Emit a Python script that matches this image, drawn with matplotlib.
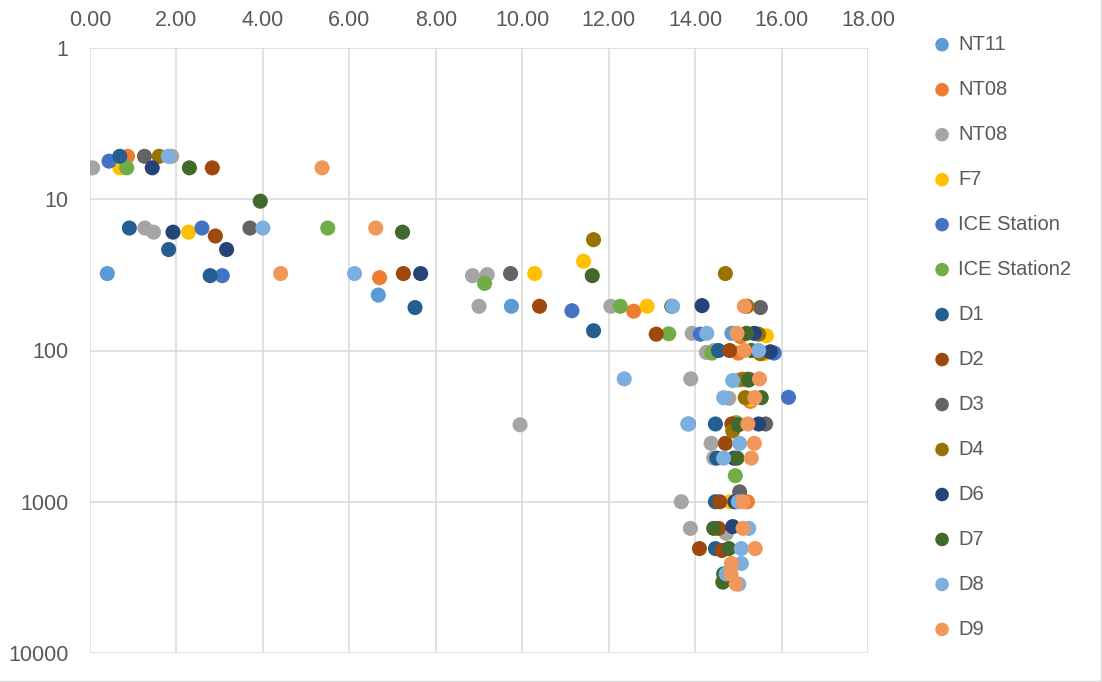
import matplotlib
matplotlib.use("Agg")
import matplotlib.pyplot as plt
from matplotlib.lines import Line2D
from matplotlib.ticker import FixedLocator, FuncFormatter, NullLocator

plt.rcParams['font.family'] = ['Liberation Sans', 'DejaVu Sans']

series_names = ["NT11", "NT08", "NT08", "F7", "ICE Station", "ICE Station2",
                "D1", "D2", "D3", "D4", "D6", "D7", "D8", "D9"]
series_colors = ["#5B9BD5", "#ED7D31", "#A5A5A5", "#FFC000", "#4472C4", "#70AD47",
                 "#255E91", "#9E480E", "#636363", "#997300", "#264478", "#43682B",
                 "#7CAFDD", "#F1975A"]

nt11_x = [0.40, 6.67, 9.75, 14.85, 13.85]
nt11_y = [31, 43, 51, 77, 306]

nt08_x = [0.87, 6.70, 12.58, 15.05, 15.00, 15.28, 15.21]
nt08_y = [5.2, 33, 55, 81, 104, 217, 1000]

nt08b_x = [0.06, 1.89, 1.27, 1.47, 8.85, 9.19, 9.00, 12.05, 13.93, 14.26, 14.44,
           13.90, 15.01, 14.78, 9.95, 14.37, 14.43, 13.68, 13.89, 14.72]
nt08b_y = [6.2, 5.2, 15.5, 16.5, 32, 31.5, 51, 51, 77, 103, 100,
           154, 157, 207, 310, 411, 514, 1000, 1500, 1620]

f7_x = [0.69, 2.28, 10.29, 11.42, 12.89, 15.65, 15.59, 15.30, 14.81]
f7_y = [6.2, 16.5, 31, 25.7, 51, 80, 105, 210, 1000]

ice_x = [0.44, 2.59, 3.06, 11.15, 14.12, 15.83, 16.16]
ice_y = [5.6, 15.5, 32, 54.6, 78, 104, 204]

ice2_x = [0.85, 5.50, 9.13, 12.27, 13.39, 14.39, 14.95, 14.93]
ice2_y = [6.2, 15.5, 36, 51, 77.5, 104, 300, 673]

d1_x = [0.69, 0.91, 1.82, 2.78, 7.52, 11.65, 14.54, 14.47, 14.50, 14.47, 14.47]
d1_y = [5.2, 15.5, 21.5, 32, 52, 74, 100, 306, 515, 1000, 2040]

d2_x = [2.83, 2.90, 7.25, 10.40, 13.10, 14.80, 15.20, 14.85, 14.70, 14.57, 14.54, 14.10, 14.62]
d2_y = [6.2, 17.5, 31, 51, 78, 100, 155, 306, 411, 1000, 1500, 2040, 2100]

d3_x = [1.26, 3.70, 9.73, 15.51, 15.25, 15.63, 15.03]
d3_y = [5.2, 15.5, 31, 52, 155, 306, 860]

d4_x = [1.60, 11.65, 14.70, 15.20, 15.47, 15.51, 15.10, 15.16, 14.87]
d4_y = [5.2, 18.5, 31, 51, 78, 105, 155, 205, 340]

d6_x = [1.44, 1.92, 3.16, 7.65, 14.16, 15.37, 15.74, 15.47, 14.90, 14.92, 14.87]
d6_y = [6.2, 16.5, 21.5, 31, 50.5, 77, 102, 306, 515, 1000, 1460]

d7_x = [2.30, 3.94, 7.23, 11.62, 13.46, 15.19, 15.30, 15.24, 15.53, 15.00, 14.97,
        14.43, 14.78, 14.66, 14.64]
d7_y = [6.2, 10.3, 16.5, 32, 51, 77, 100, 157, 205, 310, 515,
        1500, 2040, 3000, 3400]

d8_x = [1.81, 4.00, 6.12, 13.48, 14.27, 15.47, 12.36, 14.87, 14.66, 13.83, 15.03,
        14.66, 15.00, 15.24, 15.07, 15.07, 14.72, 15.01]
d8_y = [5.2, 15.5, 31, 51, 77, 100, 154, 158, 205, 306, 411,
        515, 1000, 1500, 2040, 2560, 3000, 3500]

d9_x = [5.37, 6.61, 4.41, 15.14, 14.97, 15.14, 15.49, 15.38, 15.22, 15.37, 15.30,
        15.11, 15.11, 15.39, 14.84, 14.83, 14.95]
d9_y = [6.2, 15.5, 31, 51, 77, 100, 154, 205, 306, 411, 515,
        1000, 1500, 2040, 2560, 3000, 3500]

series_x = [nt11_x, nt08_x, nt08b_x, f7_x, ice_x, ice2_x, d1_x, d2_x, d3_x, d4_x,
            d6_x, d7_x, d8_x, d9_x]
series_y = [nt11_y, nt08_y, nt08b_y, f7_y, ice_y, ice2_y, d1_y, d2_y, d3_y, d4_y,
            d6_y, d7_y, d8_y, d9_y]

x_ticks = [0, 2, 4, 6, 8, 10, 12, 14, 16, 18]
y_ticks = [1, 10, 100, 1000, 10000]

W, H = 1102, 682
fig = plt.figure(figsize=(W / 100, H / 100), dpi=100)
ax = fig.add_axes([90 / W, (H - 653) / H, 778 / W, 605 / H])

for name, col, xs, ys in zip(series_names, series_colors, series_x, series_y):
    ax.scatter(xs, ys, s=118, color=col, edgecolors='none', label=name, zorder=3)

ax.set_yscale('log')
ax.set_ylim(10000, 1)
ax.set_xlim(0, 18)
ax.yaxis.set_major_locator(FixedLocator(y_ticks))
ax.yaxis.set_minor_locator(NullLocator())
ax.yaxis.set_major_formatter(FuncFormatter(lambda v, p: f"{int(round(v))}"))
ax.xaxis.set_major_locator(FixedLocator(x_ticks))
ax.xaxis.set_major_formatter(FuncFormatter(lambda v, p: f"{v:.2f}"))
ax.xaxis.tick_top()

txt_col = "#595959"
ax.tick_params(axis='both', which='both', length=0, labelsize=15.5, labelcolor=txt_col)
ax.tick_params(axis='x', pad=12.5)
ax.tick_params(axis='y', pad=15.5)

ax.grid(True, which='major', color='#D9D9D9', linewidth=1.1, zorder=0)
ax.set_axisbelow(True)
for sp in ax.spines.values():
    sp.set_visible(False)

leg = fig.legend(loc='upper left', bbox_to_anchor=(933 / W, 1 - 35 / H),
                 frameon=False, fontsize=14.5, labelcolor=txt_col,
                 handletextpad=0.35, handlelength=0.9, labelspacing=1.29,
                 borderpad=0, borderaxespad=0, markerscale=0.9)

# chart-area outline (right and bottom edges visible)
fig.add_artist(Line2D([1 - 1.5 / W, 1 - 1.5 / W], [0, 1], transform=fig.transFigure,
                      color='#D9D9D9', linewidth=1))
fig.add_artist(Line2D([0, 1], [1.5 / H, 1.5 / H], transform=fig.transFigure,
                      color='#D9D9D9', linewidth=1))

fig.savefig("out.png", dpi=100)
